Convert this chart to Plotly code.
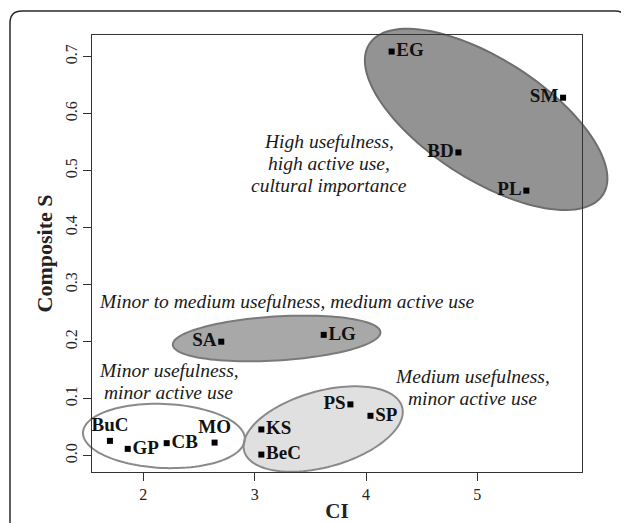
import numpy as np
import plotly.graph_objects as go

# ---- data ----
labels = ["EG", "SM", "BD", "PL", "SA", "LG", "BuC", "GP", "CB", "MO", "KS", "BeC", "PS", "SP"]
ci = [4.23, 5.77, 4.83, 5.44, 2.70, 3.62, 1.70, 1.86, 2.21, 2.64, 3.06, 3.06, 3.86, 4.04]
composite_s = [0.709, 0.628, 0.532, 0.465, 0.200, 0.212, 0.026, 0.012, 0.022, 0.023, 0.046, 0.002, 0.090, 0.070]
label_pos = ["middle right", "middle left", "middle left", "middle left", "middle left", "middle right",
             "top center", "middle right", "middle right", "top center", "middle right", "middle right",
             "middle left", "middle right"]

x_ticks = [2, 3, 4, 5]
y_ticks = [0.0, 0.1, 0.2, 0.3, 0.4, 0.5, 0.6, 0.7]
y_ticklabels = ["0.0", "0.1", "0.2", "0.3", "0.4", "0.5", "0.6", "0.7"]

# group ellipses: centre (CI, S), semi-axes (px), rotation (deg, screen)
groups = [
    dict(cx=5.079, cy=0.590, a=139, b=60, ang=32.8, fill="#939393", line="#6e6e6e"),
    dict(cx=3.197, cy=0.2056, a=104, b=22, ang=-3.5, fill="#a8a8a8", line="#7a7a7a"),
    dict(cx=3.615, cy=0.0468, a=82, b=38, ang=-15.6, fill="#e0e0e0", line="#8a8a8a"),
    dict(cx=2.185, cy=0.0346, a=81, b=32, ang=2.5, fill="rgba(0,0,0,0)", line="#8a8a8a"),
]

group_text = [
    (["High usefulness,", "high active use,", "cultural importance"], 3.67, 0.512),
    (["Minor to medium usefulness, medium active use"], 3.29, 0.270),
    (["Minor usefulness,", "minor active use"], 2.23, 0.131),
    (["Medium usefulness,", "minor active use"], 4.96, 0.119),
]

# page body has an 8px margin, so the figure is slightly smaller
OFF = 8
W, H = 629 - OFF, 523 - OFF
ml, mr, mt, mb = 92 - OFF, 47, 35 - OFF, 51
xr = [1.539, 5.94]
yr = [-0.0286, 0.738]
pw, ph = W - ml - mr, H - mt - mb
ppx = pw / (xr[1] - xr[0])
ppy = ph / (yr[1] - yr[0])

fig = go.Figure()

shapes = []
for g in groups:
    t = np.linspace(0, 2 * np.pi, 120)
    th = np.radians(g["ang"])
    dx = g["a"] * np.cos(t) * np.cos(th) - g["b"] * np.sin(t) * np.sin(th)
    dy = g["a"] * np.cos(t) * np.sin(th) + g["b"] * np.sin(t) * np.cos(th)
    xs = g["cx"] + dx / ppx
    ys = g["cy"] - dy / ppy
    px = (xs - xr[0]) / (xr[1] - xr[0])
    py = (ys - yr[0]) / (yr[1] - yr[0])
    path = "M " + " L ".join(f"{a:.5f},{b:.5f}" for a, b in zip(px, py)) + " Z"
    shapes.append(dict(type="path", path=path, xref="paper", yref="paper", layer="below",
                       fillcolor=g["fill"], line=dict(color=g["line"], width=2)))

# outer rounded frame (page pixel coords -> paper)
def pxp(x):
    return (x - OFF - ml) / pw
def pyp(y):
    return (H - mb - (y - OFF)) / ph
r = 12
fx0, fx1, fy0, fyb = 10, 627, 11, 540
frame = (f"M {pxp(fx0)},{pyp(fyb)} L {pxp(fx0)},{pyp(fy0 + r)} "
         f"Q {pxp(fx0)},{pyp(fy0)} {pxp(fx0 + r)},{pyp(fy0)} "
         f"L {pxp(fx1 - r)},{pyp(fy0)} Q {pxp(fx1)},{pyp(fy0)} {pxp(fx1)},{pyp(fy0 + r)} "
         f"L {pxp(fx1)},{pyp(fyb)}")
shapes.append(dict(type="path", path=frame, xref="paper", yref="paper", layer="above",
                   line=dict(color="#2a2a2a", width=1.5)))

fig.add_trace(go.Scatter(
    x=ci, y=composite_s, mode="markers+text",
    marker=dict(symbol="square", size=6, color="black"),
    text=[f"<b>{s}</b>" for s in labels], textposition=label_pos,
    textfont=dict(family="Liberation Serif", size=19, color="#111111"),
    cliponaxis=False, showlegend=False, hoverinfo="skip"))

annotations = []
line_h = 22
for lines, x, y in group_text:
    n = len(lines)
    for i, ln in enumerate(lines):
        annotations.append(dict(text=f"<i>{ln}</i>", x=x, y=y, xref="x", yref="y",
                                yshift=((n - 1) / 2 - i) * line_h,
                                showarrow=False, align="center",
                                font=dict(family="Liberation Serif", size=19.5, color="#1a1a1a")))

fig.update_layout(
    width=W, height=H,
    margin=dict(l=ml, r=mr, t=mt, b=mb, pad=0),
    paper_bgcolor="white", plot_bgcolor="rgba(0,0,0,0)",
    shapes=shapes, annotations=annotations,
    font=dict(family="Liberation Serif", color="#222222"),
    xaxis=dict(range=xr, tickvals=x_ticks, ticktext=[str(v) for v in x_ticks],
               showgrid=False, zeroline=False, showline=True, mirror=True, automargin=False,
               linecolor="#333333", linewidth=1, ticks="outside", ticklen=8,
               tickcolor="#333333", tickfont=dict(size=16, family="Liberation Serif"),
               title=dict(text="<b>CI</b>", font=dict(size=21, family="Liberation Serif"), standoff=4)),
    yaxis=dict(range=yr, tickvals=y_ticks, ticktext=y_ticklabels, tickangle=-90,
               showgrid=False, zeroline=False, showline=True, mirror=True, automargin=False,
               linecolor="#333333", linewidth=1, ticks="outside", ticklen=8,
               tickcolor="#333333", tickfont=dict(size=16, family="Liberation Serif"),
               title=dict(text="<b>Composite S</b>", font=dict(size=22, family="Liberation Serif"), standoff=3)),
)

fig.write_html("out.html")
